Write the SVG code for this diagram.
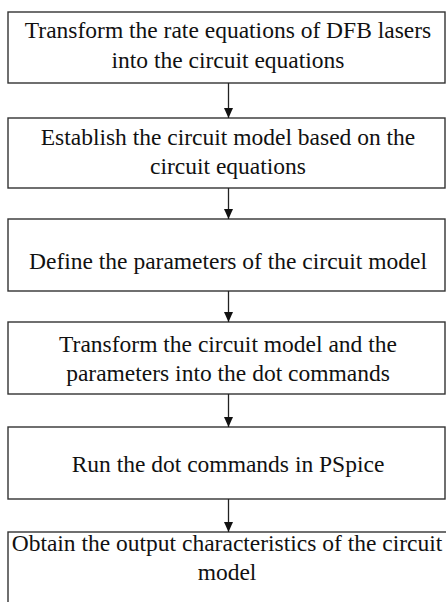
<svg xmlns="http://www.w3.org/2000/svg" width="446" height="602" viewBox="0 0 446 602">
<style>
.box{fill:#fff;stroke:#333;stroke-width:1.4}
.t{font-family:"Liberation Serif","Times New Roman",serif;font-size:23.5px;fill:#111;text-anchor:middle}
.c{stroke:#222;stroke-width:1.3;fill:none}
</style>
<defs>
<marker id="ah" viewBox="0 0 10 10" refX="10" refY="5" markerWidth="10" markerHeight="10" markerUnits="userSpaceOnUse" orient="auto">
<path d="M0,0.5 L10,5 L0,9.5 Z" fill="#111"/>
</marker>
</defs>
<rect width="446" height="602" fill="#fff"/>
<g id="n1"><rect class="box" x="8" y="12" width="437" height="71"/>
<text class="t" x="228" y="38">Transform the rate equations of DFB lasers</text>
<text class="t" x="228" y="68">into the circuit equations</text></g>
<g id="n2"><rect class="box" x="8" y="118" width="437" height="70"/>
<text class="t" x="228" y="145">Establish the circuit model based on the</text>
<text class="t" x="228" y="174">circuit equations</text></g>
<g id="n3"><rect class="box" x="8" y="219" width="437" height="72"/>
<text class="t" x="228" y="269">Define the parameters of the circuit model</text></g>
<g id="n4"><rect class="box" x="8" y="322" width="437" height="72"/>
<text class="t" x="228" y="352">Transform the circuit model and the</text>
<text class="t" x="228" y="381">parameters into the dot commands</text></g>
<g id="n5"><rect class="box" x="8" y="427" width="437" height="72"/>
<text class="t" x="228" y="472">Run the dot commands in PSpice</text></g>
<g id="n6"><rect class="box" x="8" y="532" width="450" height="80"/>
<text class="t" x="227" y="551">Obtain the output characteristics of the circuit</text>
<text class="t" x="227" y="580">model</text></g>
<g id="connectors">
<line class="c" x1="228.5" y1="83" x2="228.5" y2="118" marker-end="url(#ah)"/>
<line class="c" x1="228.5" y1="188" x2="228.5" y2="219" marker-end="url(#ah)"/>
<line class="c" x1="228.5" y1="291" x2="228.5" y2="322" marker-end="url(#ah)"/>
<line class="c" x1="228.5" y1="394" x2="228.5" y2="427" marker-end="url(#ah)"/>
<line class="c" x1="228.5" y1="499" x2="228.5" y2="532" marker-end="url(#ah)"/>
</g>
</svg>
